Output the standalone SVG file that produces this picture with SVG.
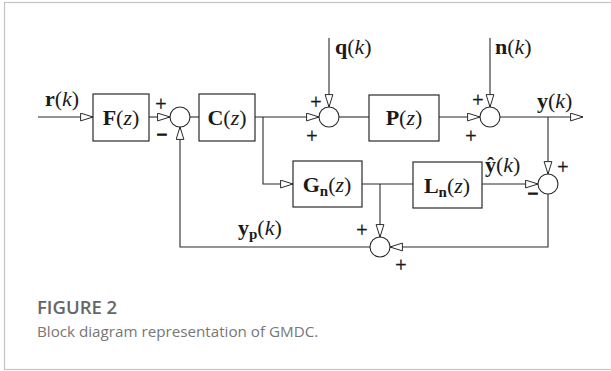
<svg xmlns="http://www.w3.org/2000/svg" width="611" height="371" viewBox="0 0 611 371">
<defs>
<style>
.ln{fill:none;stroke:#2a2a2a;stroke-width:1.1}
.box{fill:#fff;stroke:#2a2a2a;stroke-width:1.2}
.sum{fill:#fff;stroke:#2a2a2a;stroke-width:1.1}
.t{font-family:"Liberation Serif","Times New Roman",serif;font-size:22px;fill:#1a1a1a}
.b{font-weight:bold}
.i{font-style:italic}
.sub{font-size:15px;font-weight:bold}
.pm{font-family:"Liberation Serif","Times New Roman",serif;font-size:20px;fill:#1a1a1a;stroke:#1a1a1a;stroke-width:0.4;text-anchor:middle}
.mn{font-family:"Liberation Serif","Times New Roman",serif;font-size:19px;font-weight:bold;fill:#1a1a1a;stroke:#1a1a1a;stroke-width:1;text-anchor:middle}
.cap1{font-family:"Open Sans","Noto Sans",sans-serif;font-size:18.5px;font-weight:600;fill:#666}
.cap2{font-family:"Open Sans","Noto Sans",sans-serif;font-size:15.2px;fill:#777}
</style>
<marker id="ar" markerUnits="userSpaceOnUse" markerWidth="16" markerHeight="12" refX="13" refY="4.5" orient="auto">
<path d="M0.6,0.6 L13,4.5 L0.6,8.4 Z" fill="#fff" stroke="#2a2a2a" stroke-width="1"/>
</marker>
</defs>
<rect x="0" y="0" width="611" height="371" fill="#fff"/>
<rect x="4.5" y="2.5" width="620" height="367" fill="none" stroke="#c4c4c4" stroke-width="1.2"/>

<g id="connectors">
<path class="ln" d="M38,117 H93" marker-end="url(#ar)"/>
<path class="ln" d="M149,117 H170" marker-end="url(#ar)"/>
<path class="ln" d="M190,117 H199"/>
<path class="ln" d="M255,117 H319" marker-end="url(#ar)"/>
<path class="ln" d="M329,38 V107" marker-end="url(#ar)"/>
<path class="ln" d="M339,117 H369"/>
<path class="ln" d="M439,117 H480" marker-end="url(#ar)"/>
<path class="ln" d="M490,38 V107" marker-end="url(#ar)"/>
<path class="ln" d="M500,117 H583" marker-end="url(#ar)"/>
<path class="ln" d="M548,117 V174" marker-end="url(#ar)"/>
<path class="ln" d="M263,117 V184 H293" marker-end="url(#ar)"/>
<path class="ln" d="M362,184 H413"/>
<path class="ln" d="M380,184 V237" marker-end="url(#ar)"/>
<path class="ln" d="M482,184 H538" marker-end="url(#ar)"/>
<path class="ln" d="M548,194 V247 H390" marker-end="url(#ar)"/>
<path class="ln" d="M370,247 H180 V127" marker-end="url(#ar)"/>
</g>

<g id="F">
<rect class="box" x="93" y="94" width="56" height="47"/>
<text class="t" x="121" y="125" text-anchor="middle"><tspan class="b">F</tspan>(<tspan class="i">z</tspan>)</text>
</g>
<g id="sum1">
<circle class="sum" cx="180" cy="117" r="10"/>
<text class="pm" x="161" y="111">+</text>
<text class="mn" x="162" y="141">−</text>
</g>
<g id="C">
<rect class="box" x="199" y="94" width="56" height="47"/>
<text class="t" x="227" y="125" text-anchor="middle"><tspan class="b">C</tspan>(<tspan class="i">z</tspan>)</text>
</g>
<g id="sum2">
<circle class="sum" cx="329" cy="117" r="10"/>
<text class="pm" x="316" y="109">+</text>
<text class="pm" x="312" y="143">+</text>
</g>
<g id="P">
<rect class="box" x="369" y="95" width="70" height="46"/>
<text class="t" x="404" y="125" text-anchor="middle"><tspan class="b">P</tspan>(<tspan class="i">z</tspan>)</text>
</g>
<g id="sum3">
<circle class="sum" cx="490" cy="117" r="10"/>
<text class="pm" x="478" y="107">+</text>
<text class="pm" x="471" y="143">+</text>
</g>
<g id="G">
<rect class="box" x="293" y="161" width="69" height="46"/>
<text class="t" x="327" y="192" text-anchor="middle"><tspan class="b">G</tspan><tspan class="sub" dy="4">n</tspan><tspan dy="-4">(</tspan><tspan class="i">z</tspan>)</text>
</g>
<g id="L">
<rect class="box" x="413" y="162" width="69" height="46"/>
<text class="t" x="447" y="193" text-anchor="middle"><tspan class="b">L</tspan><tspan class="sub" dy="4">n</tspan><tspan dy="-4">(</tspan><tspan class="i">z</tspan>)</text>
</g>
<g id="sum4">
<circle class="sum" cx="380" cy="247" r="10"/>
<text class="pm" x="362" y="237">+</text>
<text class="pm" x="401" y="272">+</text>
</g>
<g id="sum5">
<circle class="sum" cx="548" cy="184" r="10"/>
<text class="pm" x="563" y="174">+</text>
<text class="mn" x="533" y="200">−</text>
</g>
<g id="labels">
<text class="t" x="45" y="106"><tspan class="b">r</tspan>(<tspan class="i">k</tspan>)</text>
<text class="t" x="335" y="54"><tspan class="b">q</tspan>(<tspan class="i">k</tspan>)</text>
<text class="t" x="495" y="54"><tspan class="b">n</tspan>(<tspan class="i">k</tspan>)</text>
<text class="t" x="537" y="108"><tspan class="b">y</tspan>(<tspan class="i">k</tspan>)</text>
<text class="t" x="485" y="172"><tspan class="b">ŷ</tspan>(<tspan class="i">k</tspan>)</text>
<text class="t" x="238" y="235"><tspan class="b">y</tspan><tspan class="sub" dy="4">p</tspan><tspan dy="-4">(</tspan><tspan class="i">k</tspan>)</text>
</g>
<g id="caption">
<text class="cap1" x="37" y="314">FIGURE 2</text>
<text class="cap2" x="37" y="337">Block diagram representation of GMDC.</text>
</g>
</svg>
